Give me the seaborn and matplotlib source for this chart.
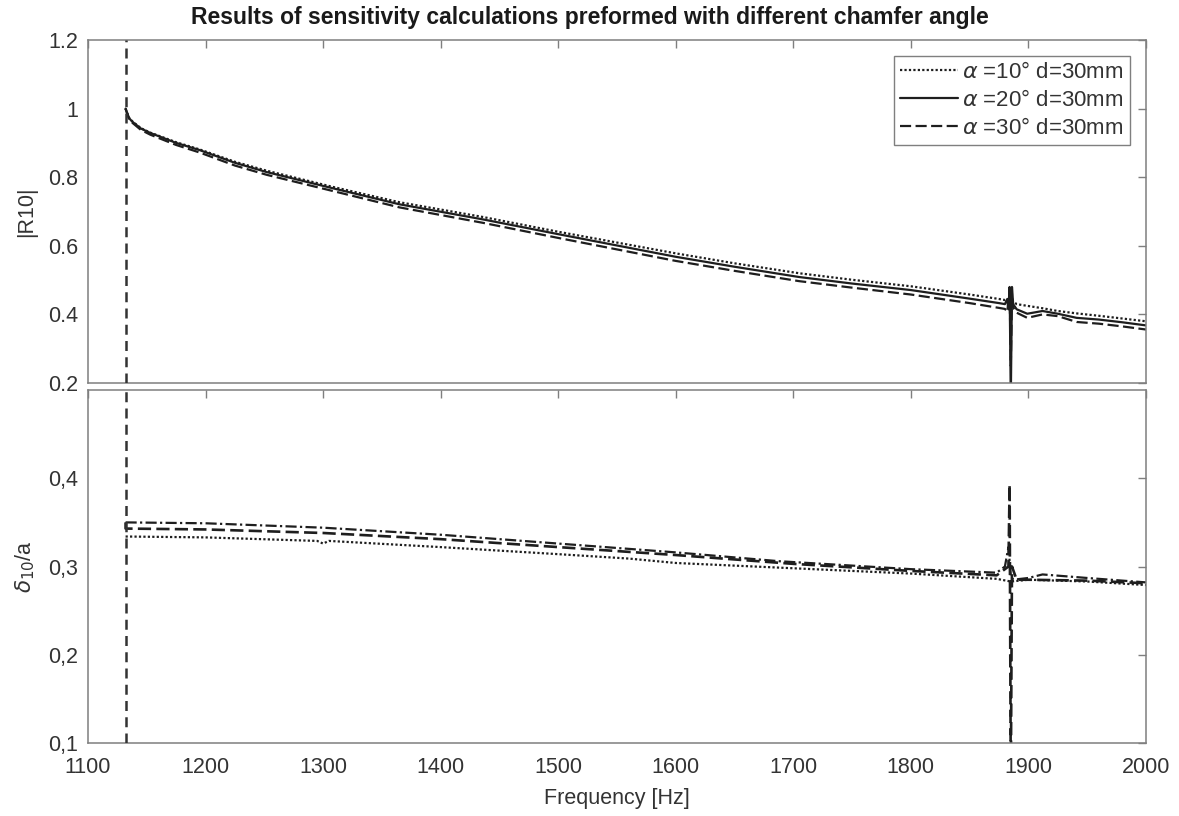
import matplotlib
matplotlib.use("Agg")
import matplotlib.pyplot as plt
import seaborn as sns
import pandas as pd

# ---- |R10| (upper panel) ----
freq_r = [1132, 1133, 1135, 1138, 1145, 1153, 1175, 1195, 1225, 1252, 1308, 1365,
          1436, 1500, 1600, 1650, 1705, 1750, 1800, 1850, 1875, 1880, 1882, 1883,
          1884, 1885, 1886, 1887, 1890, 1899, 1912, 1925, 1941, 1960, 1980, 2000]
r_10deg = [1.000, 0.990, 0.973, 0.962, 0.943, 0.930, 0.902, 0.881, 0.845, 0.819, 0.772, 0.727,
           0.684, 0.641, 0.578, 0.549, 0.520, 0.501, 0.482, 0.458, 0.445, 0.442, 0.445, 0.438,
           0.460, 0.430, 0.445, 0.438, 0.430, 0.425, 0.418, 0.410, 0.403, 0.396, 0.388, 0.380]
r_20deg = [1.000, 0.990, 0.972, 0.961, 0.942, 0.929, 0.900, 0.879, 0.842, 0.815, 0.768, 0.721,
           0.677, 0.634, 0.568, 0.539, 0.509, 0.490, 0.471, 0.446, 0.433, 0.430, 0.445, 0.415,
           0.480, 0.150, 0.480, 0.430, 0.415, 0.402, 0.410, 0.402, 0.390, 0.385, 0.377, 0.368]
r_30deg = [1.000, 0.989, 0.970, 0.958, 0.938, 0.924, 0.894, 0.872, 0.834, 0.807, 0.760, 0.712,
           0.667, 0.623, 0.556, 0.527, 0.497, 0.478, 0.458, 0.433, 0.419, 0.416, 0.408, 0.440,
           0.470, 0.250, 0.460, 0.420, 0.405, 0.390, 0.400, 0.395, 0.378, 0.373, 0.365, 0.356]

# ---- delta10/a (lower panel) ----
freq_d_dot = [1132, 1200, 1295, 1300, 1305, 1400, 1500, 1560, 1600, 1700, 1800, 1873,
              1885, 1900, 1950, 2000]
d_dotted = [0.334, 0.333, 0.329, 0.326, 0.329, 0.322, 0.314, 0.309, 0.304, 0.298, 0.292, 0.286,
            0.283, 0.285, 0.283, 0.279]
freq_d_dash = [1132, 1132, 1200, 1300, 1400, 1500, 1600, 1700, 1800, 1873, 1883, 1884,
               1885, 1886, 1890, 1900, 1950, 2000]
d_dashed = [0.350, 0.343, 0.342, 0.338, 0.331, 0.322, 0.313, 0.303, 0.295, 0.290, 0.300, 0.393,
            0.050, 0.300, 0.285, 0.285, 0.284, 0.281]
freq_d_dd = [1132, 1200, 1300, 1400, 1500, 1600, 1688, 1800, 1873, 1880, 1883, 1885,
             1887, 1900, 1912, 1950, 2000]
d_dashdot = [0.350, 0.349, 0.344, 0.336, 0.326, 0.316, 0.306, 0.297, 0.293, 0.300, 0.322, 0.290,
             0.285, 0.287, 0.291, 0.287, 0.282]

cutoff_freq = 1132

legend_labels = [r"$\alpha$ =10° d=30mm", r"$\alpha$ =20° d=30mm", r"$\alpha$ =30° d=30mm"]
r_ticks = [0.2, 0.4, 0.6, 0.8, 1.0, 1.2]
r_ticklabels = ["0.2", "0.4", "0.6", "0.8", "1", "1.2"]
d_ticks = [0.1, 0.2, 0.3, 0.4]
d_ticklabels = ["0,1", "0,2", "0,3", "0,4"]
x_ticks = [1100, 1200, 1300, 1400, 1500, 1600, 1700, 1800, 1900, 2000]

sns.set_style("white")
plt.rcParams["font.family"] = ["Liberation Sans", "DejaVu Sans"]
plt.rcParams["mathtext.fontset"] = "dejavusans"

text_col = "#333333"
spine_col = "#7f7f7f"
line_col = "#1e1e1e"
fs = 15.5

fig = plt.figure(figsize=(11.79, 8.16), dpi=100)
ax1 = fig.add_axes([0.0746, 0.5306, 0.8974, 0.4204])
ax2 = fig.add_axes([0.0746, 0.0895, 0.8974, 0.4325])

dotted = (0, (1, 1))
dashed = (0, (5, 2))
dashdot = (0, (5, 1.5, 1, 1.5))

df_r = pd.DataFrame({"f": freq_r, "a10": r_10deg, "a20": r_20deg, "a30": r_30deg})
sns.lineplot(data=df_r, x="f", y="a10", ax=ax1, sort=False, estimator=None,
             color=line_col, lw=1.6, linestyle=dotted, label=legend_labels[0])
sns.lineplot(data=df_r, x="f", y="a20", ax=ax1, sort=False, estimator=None,
             color=line_col, lw=1.6, linestyle="-", label=legend_labels[1])
sns.lineplot(data=df_r, x="f", y="a30", ax=ax1, sort=False, estimator=None,
             color=line_col, lw=1.6, linestyle=dashed, label=legend_labels[2])

sns.lineplot(x=freq_d_dot, y=d_dotted, ax=ax2, sort=False, estimator=None,
             color=line_col, lw=1.6, linestyle=dotted)
sns.lineplot(x=freq_d_dash, y=d_dashed, ax=ax2, sort=False, estimator=None,
             color=line_col, lw=1.9, linestyle=dashed)
sns.lineplot(x=freq_d_dd, y=d_dashdot, ax=ax2, sort=False, estimator=None,
             color=line_col, lw=1.6, linestyle=dashdot)

for ax in (ax1, ax2):
    ax.axvline(cutoff_freq, color="#333333", lw=1.8, linestyle=(0, (4, 2.5)), zorder=5)
    ax.set_xlim(1100, 2000)
    ax.set_xticks(x_ticks)
    for s in ax.spines.values():
        s.set_color(spine_col)
        s.set_linewidth(1.1)
    ax.tick_params(direction="in", length=6, width=1.0, color=spine_col,
                   top=True, right=True, labelsize=fs, labelcolor=text_col)
    ax.tick_params(axis="y", pad=7)
    ax.tick_params(axis="x", pad=10)
    ax.grid(False)

ax1.set_ylim(0.2, 1.2)
ax1.set_yticks(r_ticks)
ax1.set_yticklabels(r_ticklabels)
ax1.tick_params(labelbottom=False)
ax1.set_xlabel("")
ax1.set_ylabel("|R10|", fontsize=fs, color=text_col, labelpad=8)

fig.text(0.5, 0.978, "Results of sensitivity calculations preformed with different chamfer angle",
         ha="center", va="center", fontsize=16.5, fontweight="bold", color="#1a1a1a")

leg = ax1.legend(loc="upper right", fontsize=16, frameon=True, fancybox=False,
                 edgecolor=spine_col, framealpha=1, handlelength=2.6, handletextpad=0.2,
                 borderaxespad=0.7, labelspacing=0.3, borderpad=0.3)
leg.get_frame().set_linewidth(1.0)
for t in leg.get_texts():
    t.set_color(text_col)

ax2.set_ylim(0.1, 0.5)
ax2.set_yticks(d_ticks)
ax2.set_yticklabels(d_ticklabels)
ax2.set_ylabel(r"$\delta_{10}$/a", fontsize=fs, color=text_col, labelpad=8)
ax2.set_xlabel("Frequency [Hz]", fontsize=fs, color=text_col, labelpad=7)

fig.savefig("out.png", dpi=100)
